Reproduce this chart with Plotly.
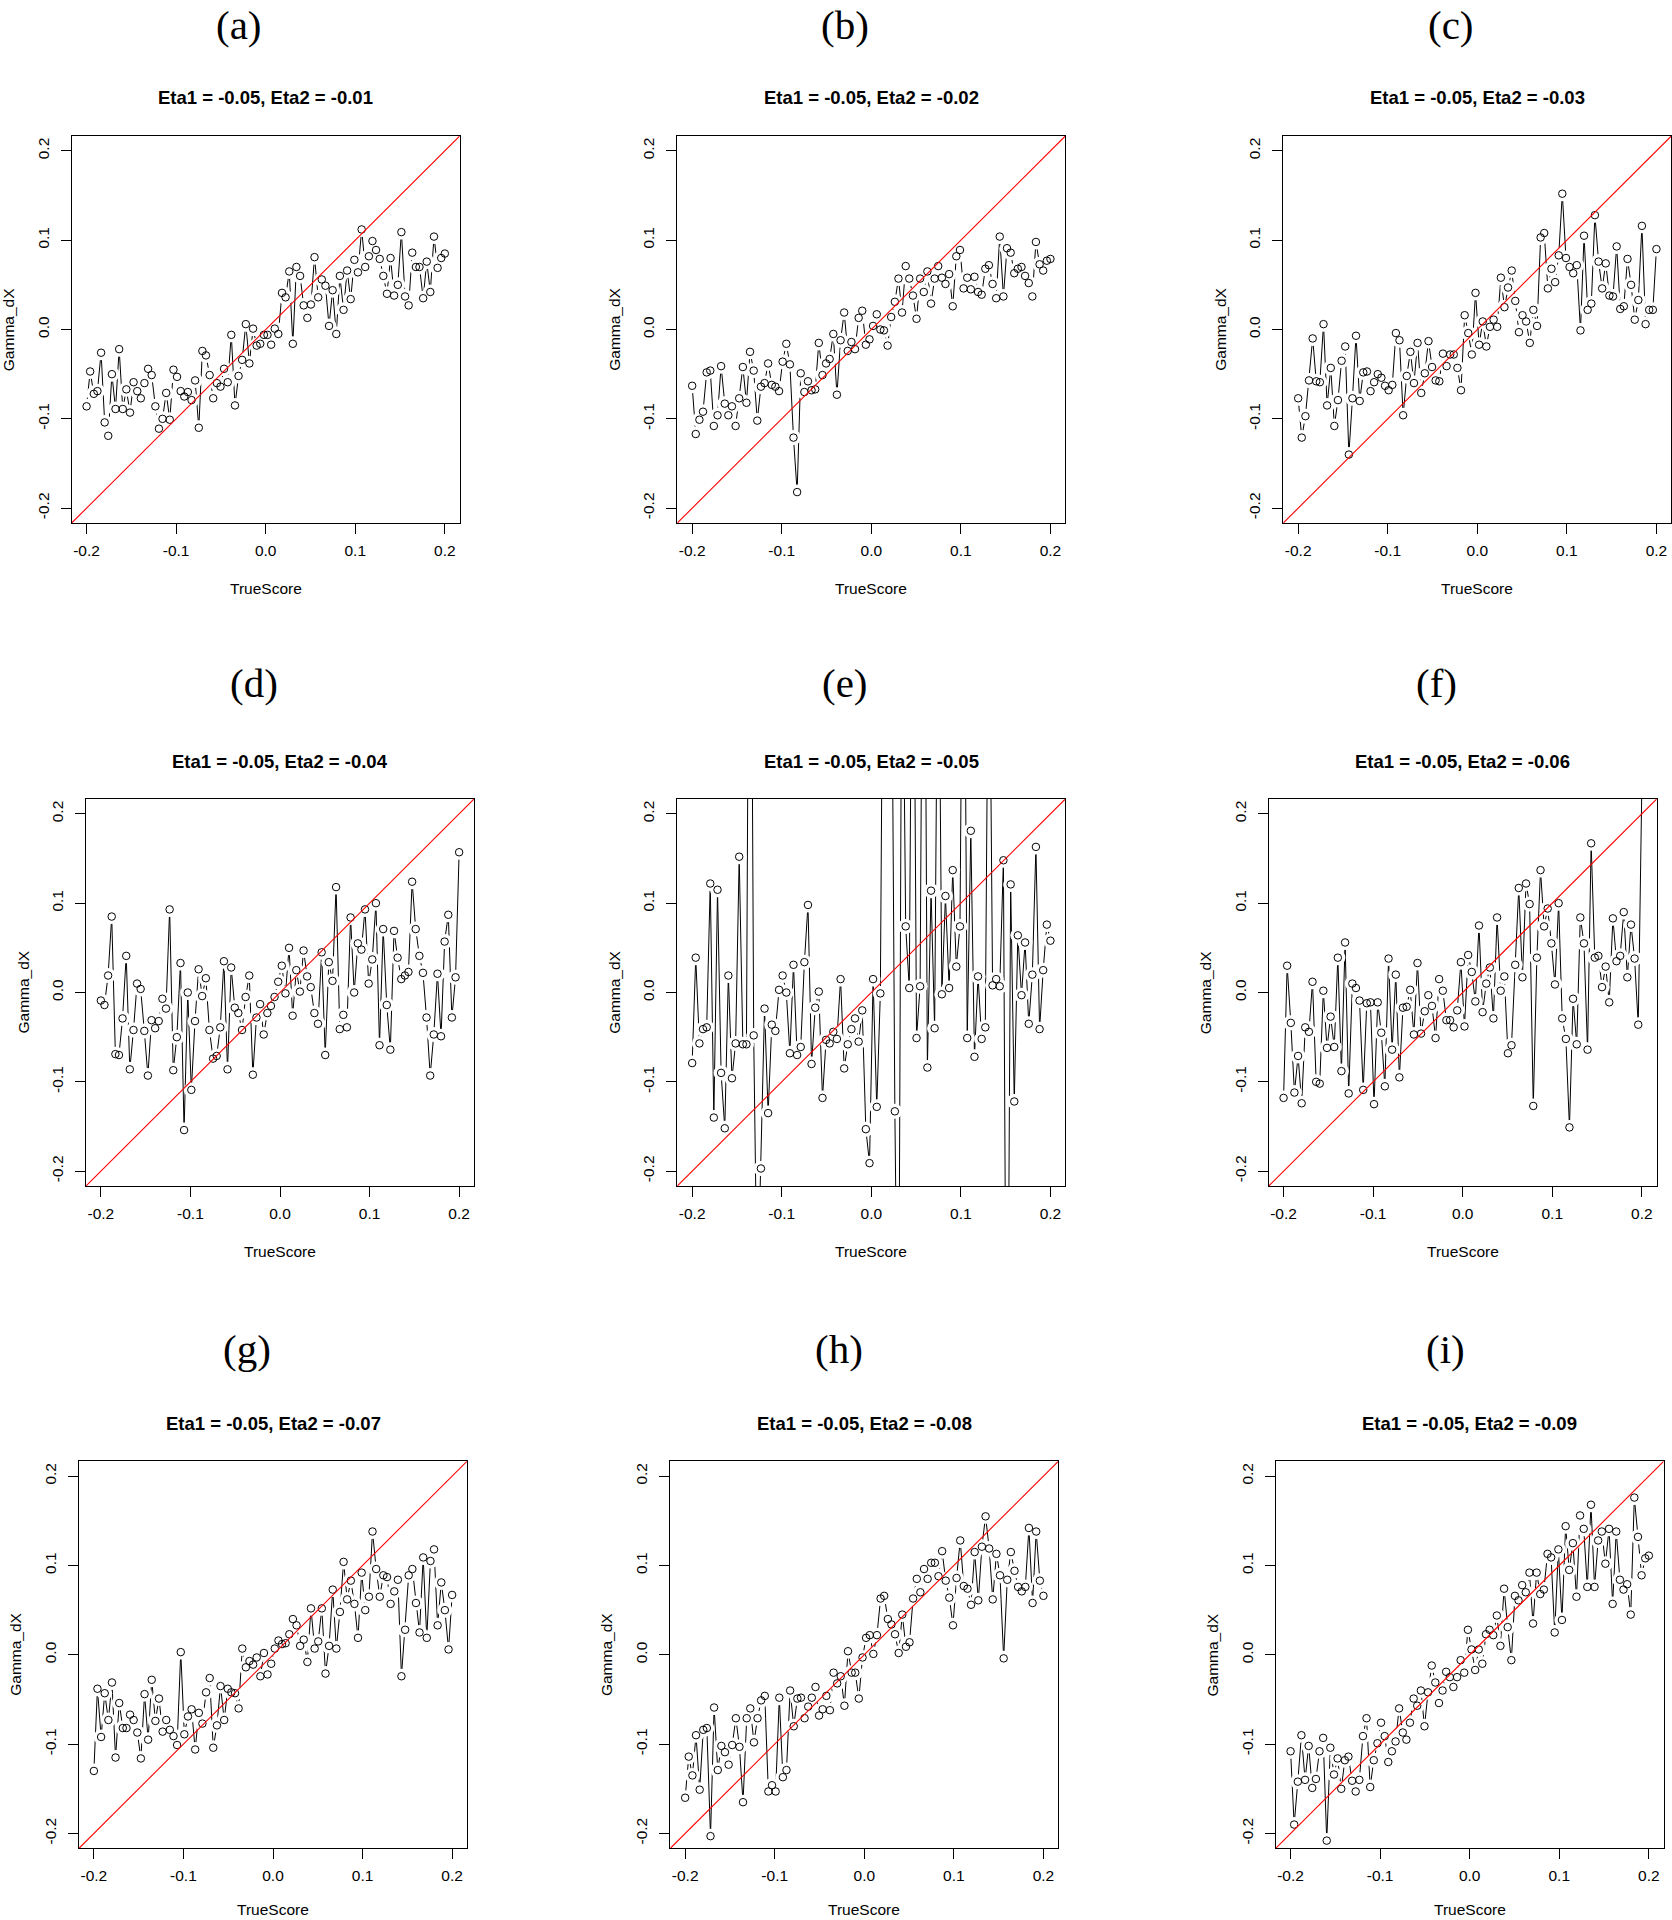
import plotly.graph_objects as go

# TrueScore grid (100 points from -0.2 to 0.2)
true_score = [
    -0.2000, -0.1960, -0.1919, -0.1879, -0.1838, -0.1798, -0.1758, -0.1717, -0.1677, -0.1636,
    -0.1596, -0.1556, -0.1515, -0.1475, -0.1434, -0.1394, -0.1354, -0.1313, -0.1273, -0.1232,
    -0.1192, -0.1152, -0.1111, -0.1071, -0.1030, -0.0990, -0.0949, -0.0909, -0.0869, -0.0828,
    -0.0788, -0.0747, -0.0707, -0.0667, -0.0626, -0.0586, -0.0545, -0.0505, -0.0465, -0.0424,
    -0.0384, -0.0343, -0.0303, -0.0263, -0.0222, -0.0182, -0.0141, -0.0101, -0.0061, -0.0020,
    0.0020, 0.0061, 0.0101, 0.0141, 0.0182, 0.0222, 0.0263, 0.0303, 0.0343, 0.0384,
    0.0424, 0.0465, 0.0505, 0.0545, 0.0586, 0.0626, 0.0667, 0.0707, 0.0747, 0.0788,
    0.0828, 0.0869, 0.0909, 0.0949, 0.0990, 0.1030, 0.1071, 0.1111, 0.1152, 0.1192,
    0.1232, 0.1273, 0.1313, 0.1354, 0.1394, 0.1434, 0.1475, 0.1515, 0.1556, 0.1596,
    0.1636, 0.1677, 0.1717, 0.1758, 0.1798, 0.1838, 0.1879, 0.1919, 0.1960, 0.2000,
]

gamma_a = [
    -0.086, -0.047, -0.072, -0.069, -0.026, -0.104, -0.119, -0.050, -0.089, -0.022,
    -0.089, -0.067, -0.093, -0.059, -0.069, -0.077, -0.060, -0.044, -0.051, -0.086,
    -0.111, -0.100, -0.071, -0.101, -0.045, -0.053, -0.069, -0.075, -0.070, -0.079,
    -0.057, -0.110, -0.024, -0.029, -0.051, -0.077, -0.060, -0.064, -0.044, -0.059,
    -0.006, -0.085, -0.052, -0.034, 0.006, -0.038, 0.001, -0.018, -0.016, -0.006,
    -0.006, -0.017, 0.001, -0.005, 0.041, 0.036, 0.065, -0.016, 0.070, 0.060,
    0.027, 0.013, 0.028, 0.081, 0.036, 0.056, 0.049, 0.004, 0.044, -0.005,
    0.060, 0.022, 0.066, 0.034, 0.078, 0.064, 0.112, 0.070, 0.082, 0.099,
    0.089, 0.079, 0.060, 0.040, 0.080, 0.038, 0.050, 0.109, 0.037, 0.027,
    0.086, 0.070, 0.070, 0.035, 0.076, 0.042, 0.104, 0.069, 0.080, 0.085,
]

gamma_b = [
    -0.063, -0.117, -0.101, -0.092, -0.048, -0.046, -0.108, -0.096, -0.041, -0.083,
    -0.096, -0.086, -0.108, -0.077, -0.042, -0.082, -0.025, -0.046, -0.102, -0.064,
    -0.060, -0.038, -0.062, -0.064, -0.069, -0.036, -0.016, -0.039, -0.121, -0.182,
    -0.049, -0.070, -0.058, -0.068, -0.067, -0.015, -0.051, -0.038, -0.033, -0.005,
    -0.073, -0.012, 0.019, -0.024, -0.014, -0.022, 0.013, 0.021, -0.017, -0.011,
    0.004, 0.017, 0.000, -0.001, -0.018, 0.014, 0.031, 0.057, 0.019, 0.071,
    0.057, 0.038, 0.012, 0.057, 0.042, 0.065, 0.029, 0.057, 0.071, 0.058,
    0.051, 0.062, 0.026, 0.082, 0.089, 0.046, 0.058, 0.045, 0.059, 0.042,
    0.039, 0.068, 0.072, 0.051, 0.035, 0.104, 0.037, 0.091, 0.086, 0.063,
    0.068, 0.070, 0.060, 0.052, 0.037, 0.098, 0.073, 0.066, 0.077, 0.079,
]

gamma_c = [
    -0.077, -0.121, -0.097, -0.057, -0.010, -0.058, -0.059, 0.006, -0.085, -0.043,
    -0.108, -0.079, -0.035, -0.019, -0.140, -0.077, -0.007, -0.080, -0.048, -0.047,
    -0.069, -0.059, -0.050, -0.054, -0.063, -0.068, -0.062, -0.004, -0.012, -0.096,
    -0.052, -0.025, -0.060, -0.015, -0.071, -0.049, -0.013, -0.042, -0.057, -0.058,
    -0.027, -0.041, -0.028, -0.028, -0.043, -0.068, 0.016, -0.004, -0.028, 0.041,
    -0.017, 0.009, -0.019, 0.003, 0.011, 0.003, 0.058, 0.025, 0.047, 0.066,
    0.032, -0.003, 0.016, 0.009, -0.015, 0.022, 0.004, 0.103, 0.108, 0.046,
    0.068, 0.053, 0.083, 0.152, 0.080, 0.070, 0.063, 0.072, -0.001, 0.105,
    0.022, 0.029, 0.128, 0.076, 0.046, 0.074, 0.038, 0.037, 0.093, 0.023,
    0.026, 0.079, 0.050, 0.011, 0.033, 0.116, 0.006, 0.022, 0.022, 0.090,
]

gamma_d = [
    -0.009, -0.014, 0.019, 0.085, -0.069, -0.070, -0.029, 0.041, -0.086, -0.042,
    0.010, 0.004, -0.043, -0.093, -0.031, -0.040, -0.032, -0.007, -0.018, 0.093,
    -0.087, -0.050, 0.033, -0.154, 0.000, -0.109, -0.032, 0.026, -0.004, 0.016,
    -0.042, -0.074, -0.071, -0.039, 0.035, -0.086, 0.028, -0.017, -0.023, -0.042,
    -0.005, 0.019, -0.092, -0.028, -0.013, -0.047, -0.023, -0.015, -0.005, 0.012,
    0.030, -0.001, 0.050, -0.026, 0.025, 0.001, 0.047, 0.018, 0.006, -0.023,
    -0.035, 0.045, -0.070, 0.034, 0.013, 0.118, -0.041, -0.025, -0.039, 0.084,
    0.000, 0.055, 0.048, 0.093, 0.010, 0.037, 0.100, -0.059, 0.071, -0.014,
    -0.064, 0.069, 0.039, 0.015, 0.019, 0.023, 0.124, 0.071, 0.041, 0.022,
    -0.028, -0.093, -0.047, 0.021, -0.049, 0.057, 0.087, -0.028, 0.017, 0.157,
]

gamma_e = [
    -0.079, 0.039, -0.057, -0.041, -0.039, 0.122, -0.140, 0.115, -0.090, -0.152,
    0.019, -0.096, -0.057, 0.152, -0.058, -0.058, 0.750, -0.048, -0.350, -0.197,
    -0.018, -0.135, -0.036, -0.043, 0.003, 0.019, 0.000, -0.068, 0.031, -0.070,
    -0.061, 0.034, 0.098, -0.080, -0.017, 0.001, -0.118, -0.053, -0.057, -0.044,
    -0.052, 0.015, -0.085, -0.058, -0.041, -0.029, -0.055, -0.020, -0.153, -0.191,
    0.015, -0.128, -0.001, 0.600, 0.900, 0.500, -0.133, -0.500, 0.500, 0.074,
    0.005, 0.600, -0.051, 0.007, 0.700, -0.084, 0.114, -0.040, 0.500, -0.002,
    0.108, 0.005, 0.137, 0.029, 0.074, 0.600, -0.051, 0.181, -0.072, 0.018,
    -0.052, -0.039, 0.500, 0.008, 0.015, 0.007, 0.148, -0.600, 0.121, -0.122,
    0.064, -0.003, 0.056, -0.035, 0.020, 0.163, -0.041, 0.025, 0.076, 0.058,
]

gamma_f = [
    -0.118, 0.030, -0.034, -0.112, -0.071, -0.124, -0.039, -0.044, 0.012, -0.100,
    -0.102, 0.002, -0.062, -0.027, -0.061, 0.039, -0.088, 0.056, -0.113, 0.010,
    0.005, -0.009, -0.109, -0.012, -0.011, -0.125, -0.011, -0.045, -0.105, 0.038,
    -0.064, 0.020, -0.095, -0.017, -0.016, 0.003, -0.047, 0.033, -0.046, -0.021,
    -0.003, -0.015, -0.051, 0.015, 0.002, -0.031, -0.031, -0.039, -0.020, 0.034,
    -0.038, 0.042, 0.023, -0.010, 0.075, -0.022, 0.010, 0.028, -0.029, 0.084,
    0.002, 0.018, -0.068, -0.059, 0.031, 0.117, 0.017, 0.122, 0.099, -0.127,
    0.039, 0.137, 0.074, 0.094, 0.055, 0.009, 0.100, -0.029, -0.052, -0.151,
    -0.007, -0.058, 0.084, 0.055, -0.064, 0.167, 0.039, 0.041, 0.006, 0.029,
    -0.011, 0.083, 0.035, 0.041, 0.090, 0.017, 0.076, 0.038, -0.036, 0.230,
]

gamma_g = [
    -0.130, -0.038, -0.092, -0.043, -0.073, -0.031, -0.115, -0.054, -0.082, -0.082,
    -0.067, -0.073, -0.087, -0.116, -0.044, -0.095, -0.028, -0.074, -0.049, -0.086,
    -0.073, -0.084, -0.091, -0.101, 0.003, -0.089, -0.069, -0.061, -0.106, -0.065,
    -0.077, -0.042, -0.026, -0.104, -0.079, -0.035, -0.073, -0.038, -0.042, -0.043,
    -0.060, 0.007, -0.014, -0.007, -0.011, -0.003, -0.024, 0.002, -0.022, -0.010,
    0.007, 0.016, 0.012, 0.013, 0.023, 0.040, 0.033, 0.010, 0.017, -0.008,
    0.052, 0.007, 0.015, 0.052, -0.021, 0.010, 0.073, 0.007, 0.048, 0.104,
    0.062, 0.083, 0.057, 0.019, 0.092, 0.050, 0.065, 0.138, 0.096, 0.065,
    0.089, 0.087, 0.057, 0.071, 0.084, -0.024, 0.028, 0.089, 0.096, 0.058,
    0.025, 0.109, 0.019, 0.105, 0.118, 0.033, 0.081, 0.050, 0.006, 0.067,
]

gamma_h = [
    -0.160, -0.114, -0.135, -0.090, -0.151, -0.084, -0.082, -0.203, -0.059, -0.129,
    -0.102, -0.109, -0.123, -0.101, -0.071, -0.103, -0.165, -0.071, -0.060, -0.098,
    -0.071, -0.051, -0.046, -0.153, -0.146, -0.153, -0.048, -0.137, -0.129, -0.040,
    -0.080, -0.049, -0.048, -0.071, -0.058, -0.048, -0.036, -0.068, -0.061, -0.046,
    -0.062, -0.020, -0.032, -0.024, -0.057, 0.004, -0.020, -0.020, -0.049, -0.003,
    0.019, 0.022, 0.001, 0.022, 0.063, 0.066, 0.040, 0.034, 0.023, 0.002,
    0.045, 0.009, 0.014, 0.063, 0.085, 0.070, 0.096, 0.085, 0.103, 0.103,
    0.088, 0.116, 0.083, 0.064, 0.033, 0.086, 0.128, 0.077, 0.074, 0.056,
    0.115, 0.061, 0.121, 0.155, 0.119, 0.062, 0.113, 0.089, -0.004, 0.084,
    0.115, 0.094, 0.076, 0.071, 0.076, 0.142, 0.058, 0.138, 0.083, 0.066,
]

gamma_i = [
    -0.108, -0.190, -0.142, -0.090, -0.140, -0.102, -0.149, -0.139, -0.108, -0.093,
    -0.208, -0.104, -0.134, -0.116, -0.150, -0.118, -0.114, -0.141, -0.153, -0.140,
    -0.091, -0.071, -0.148, -0.118, -0.099, -0.076, -0.091, -0.120, -0.108, -0.097,
    -0.060, -0.087, -0.095, -0.076, -0.049, -0.057, -0.040, -0.080, -0.042, -0.012,
    -0.031, -0.054, -0.040, -0.019, -0.025, -0.036, -0.025, -0.006, -0.020, 0.028,
    0.006, -0.017, 0.006, -0.010, 0.023, 0.028, 0.022, 0.044, 0.010, 0.074,
    0.031, -0.006, 0.066, 0.061, 0.078, 0.070, 0.092, 0.035, 0.092, 0.068,
    0.073, 0.113, 0.109, 0.025, 0.118, 0.039, 0.144, 0.095, 0.125, 0.065,
    0.156, 0.141, 0.076, 0.168, 0.076, 0.128, 0.138, 0.102, 0.141, 0.057,
    0.138, 0.084, 0.073, 0.079, 0.045, 0.176, 0.132, 0.089, 0.108, 0.111,
]

panel_labels = ["(a)", "(b)", "(c)", "(d)", "(e)", "(f)", "(g)", "(h)", "(i)"]
eta2_values = ["-0.01", "-0.02", "-0.03", "-0.04", "-0.05", "-0.06", "-0.07", "-0.08", "-0.09"]
series = [gamma_a, gamma_b, gamma_c, gamma_d, gamma_e, gamma_f, gamma_g, gamma_h, gamma_i]

tick_vals = [-0.2, -0.1, 0.0, 0.1, 0.2]
tick_text = ["-0.2", "-0.1", "0.0", "0.1", "0.2"]

# layout (pixels)
W, H = 1672, 1920
AX = 0.2166  # R's 4% axis extension
BOX_W, BOX_H = 388, 387
box_left = [71.7, 677.3, 1283.3, 86, 677.3, 1268.7, 79, 670.3, 1275.7]
row_top = [136, 799, 1461.3]
label_x = [239, 845, 1451, 254, 845, 1436, 247, 839, 1445]
label_y = [25, 683, 1349]
xlabel_off = [65, 65, 61]

SANS = "Liberation Sans, Arial, sans-serif"
SERIF = "Liberation Serif, Times New Roman, serif"


def px(x):
    return x / W


def py(y):
    return 1 - y / H


fig = go.Figure()
annotations = []

for k in range(9):
    row = k // 3
    left = box_left[k]
    top = row_top[row]
    right = left + BOX_W
    bottom = top + BOX_H
    n = "" if k == 0 else str(k + 1)
    xref, yref = "x" + n, "y" + n
    ys = series[k]

    fig.add_trace(go.Scatter(x=true_score, y=ys, mode="lines", xaxis=xref, yaxis=yref,
                             line=dict(color="black", width=1), hoverinfo="skip"))
    # white discs leave the small gaps around points like R's type="b"
    fig.add_trace(go.Scatter(x=true_score, y=ys, mode="markers", xaxis=xref, yaxis=yref,
                             marker=dict(size=15, color="white", line=dict(width=0)),
                             hoverinfo="skip"))
    fig.add_trace(go.Scatter(x=true_score, y=ys, mode="markers", xaxis=xref, yaxis=yref,
                             marker=dict(symbol="circle-open", size=7.5, color="black",
                                         line=dict(width=1))))
    fig.add_trace(go.Scatter(x=[-AX, AX], y=[-AX, AX], mode="lines", xaxis=xref, yaxis=yref,
                             line=dict(color="#ff0000", width=1.1), hoverinfo="skip"))

    common = dict(range=[-AX, AX], tickvals=tick_vals, ticktext=tick_text,
                  ticks="outside", ticklen=10, tickwidth=1, tickcolor="black",
                  showline=True, linecolor="black", linewidth=1, mirror=True,
                  showgrid=False, zeroline=False,
                  tickfont=dict(family=SANS, size=15.5, color="black"))
    fig.update_layout(**{
        "xaxis" + n: dict(domain=[px(left), px(right)], anchor=yref,
                          ticklabelstandoff=3, **common),
        "yaxis" + n: dict(domain=[py(bottom), py(top)], anchor=xref, tickangle=-90,
                          ticklabelstandoff=6, **common),
    })

    cx = (left + right) / 2
    annotations.append(dict(x=px(cx), y=py(top - 38), xref="paper", yref="paper",
                            text="<b>Eta1 = -0.05, Eta2 = " + eta2_values[k] + "</b>",
                            showarrow=False, xanchor="center", yanchor="middle",
                            font=dict(family=SANS, size=18.5, color="black")))
    annotations.append(dict(x=px(label_x[k]), y=py(label_y[row]), xref="paper", yref="paper",
                            text=panel_labels[k], showarrow=False,
                            xanchor="center", yanchor="middle",
                            font=dict(family=SERIF, size=41, color="black")))
    annotations.append(dict(x=px(cx), y=py(bottom + xlabel_off[row]), xref="paper", yref="paper",
                            text="TrueScore", showarrow=False,
                            xanchor="center", yanchor="middle",
                            font=dict(family=SANS, size=15.5, color="black")))
    annotations.append(dict(x=px(left - 63), y=py((top + bottom) / 2), xref="paper", yref="paper",
                            text="Gamma_dX", showarrow=False, textangle=-90,
                            xanchor="center", yanchor="middle",
                            font=dict(family=SANS, size=15.5, color="black")))

fig.update_layout(width=W, height=H, margin=dict(l=0, r=0, t=0, b=0),
                  paper_bgcolor="white", plot_bgcolor="white",
                  showlegend=False, annotations=annotations)

fig.write_html("out.html", config={"displayModeBar": False},
               post_script="document.body.style.margin='0px';")
